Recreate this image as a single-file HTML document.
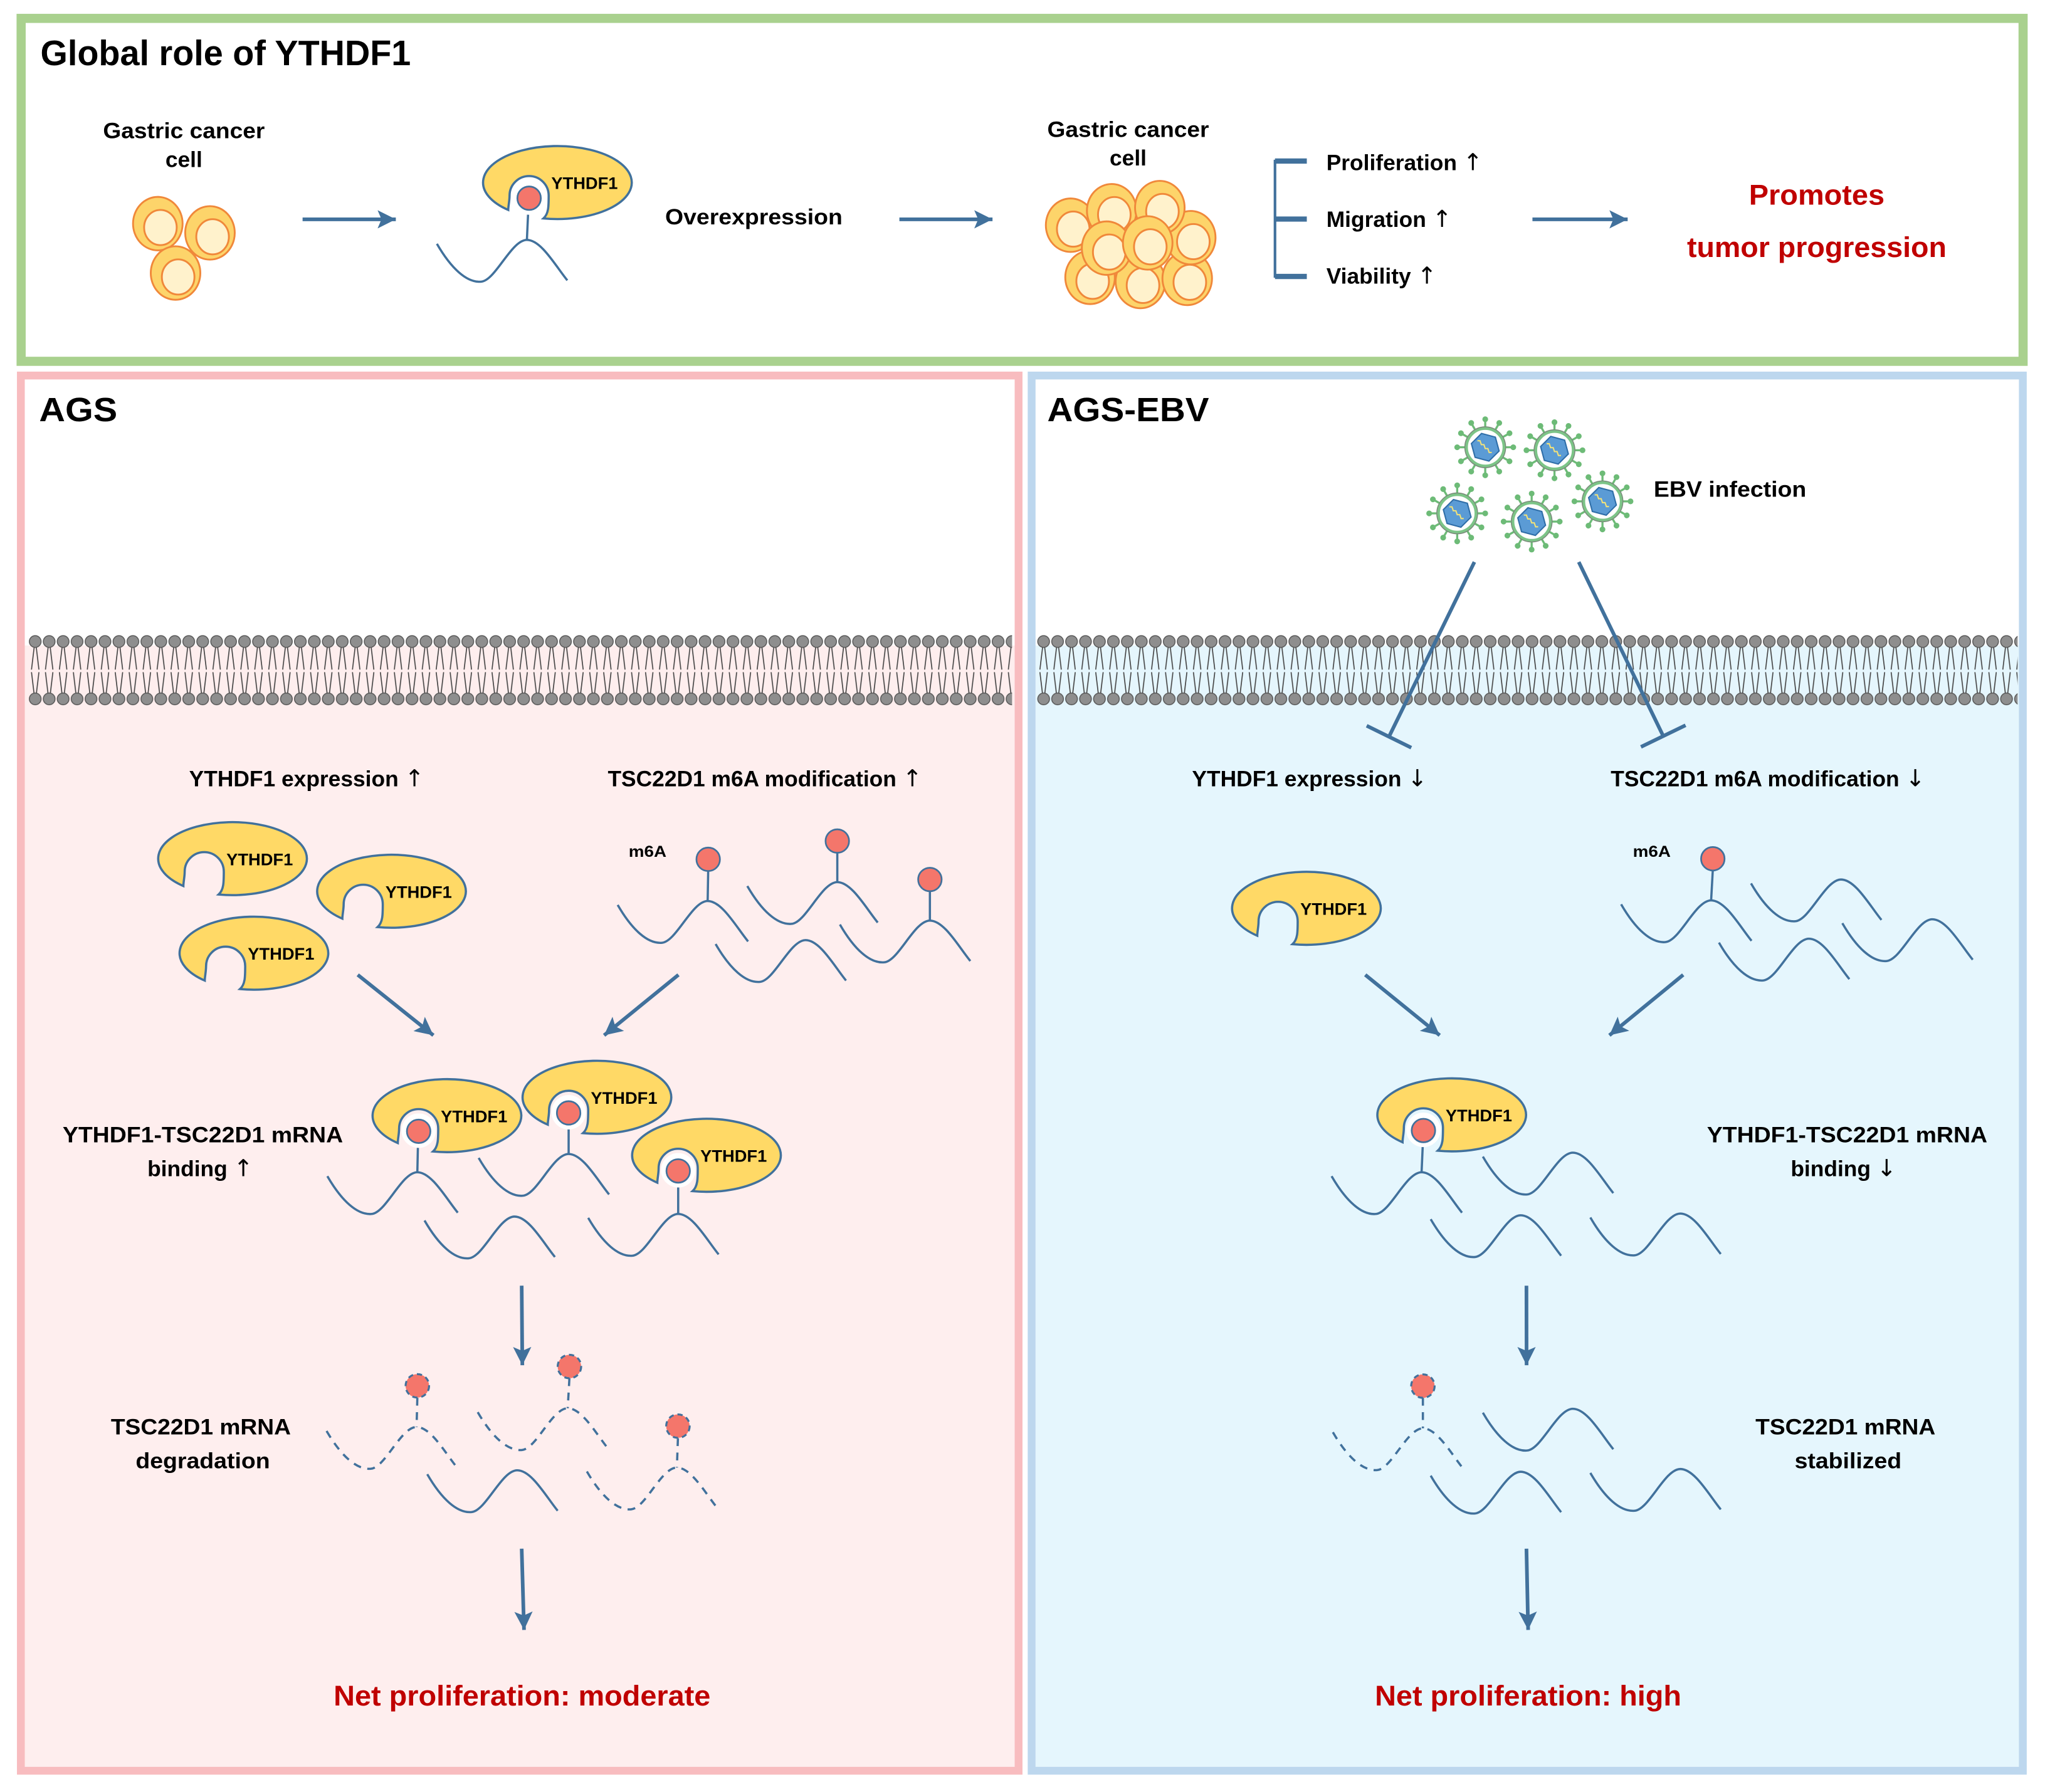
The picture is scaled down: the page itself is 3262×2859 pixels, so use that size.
<!DOCTYPE html>
<html><head><meta charset="utf-8"><style>
html,body{margin:0;padding:0;background:#fff;}
svg{display:block;}
text{font-family:"Liberation Sans",Arial,sans-serif;font-weight:bold;fill:#000;}
.lab{font-size:17px;}
.arw{font-family:"DejaVu Sans",sans-serif;font-weight:normal;font-size:18px;}
.red{fill:#c00000;font-size:22px;}
.ln{fill:none;stroke:#41719c;stroke-width:1.7;}
.dl{fill:none;stroke:#41719c;stroke-width:1.7;stroke-dasharray:6 5;}
.ar{stroke:#41719c;stroke-width:2.8;fill:none;marker-end:url(#ah);}
</style></head><body>
<svg xmlns="http://www.w3.org/2000/svg" xmlns:xlink="http://www.w3.org/1999/xlink" width="3262" height="2859" viewBox="0 0 1568 1374.3" preserveAspectRatio="none">
<defs>
<marker id="ah" markerUnits="userSpaceOnUse" markerWidth="16" markerHeight="14" refX="14" refY="7" orient="auto">
<path d="M0,0 L14,7 L0,14 L3,7 Z" fill="#41719c"/>
</marker>
<path id="w" d="M -69 3 C -58 22, -46 33, -35 32 C -24 31, -12 0, 0 0 C 11 0, 22 20, 31 31"/>
<g id="prot">
<path d="M -36 21 A 57 28 0 1 1 -9 27.5 C -5 24, -5 18, -5 10 A 15 15 0 1 0 -35 10 C -35 14, -36 18, -36 21 Z" fill="#ffd966" stroke="#41719c" stroke-width="1.7"/>
<text x="-3" y="5" font-size="13" textLength="51" lengthAdjust="spacingAndGlyphs">YTHDF1</text>
</g>
<g id="bprot">
<use xlink:href="#prot"/>
<circle cx="-20" cy="11.5" r="13.2" fill="#fff"/>
<circle cx="-20" cy="12" r="9" fill="#f4766b" stroke="#41719c" stroke-width="1.3"/>
</g>
<circle id="dot" r="9" fill="#f4766b" stroke="#41719c" stroke-width="1.3"/>
<circle id="ddot" r="9" fill="#f4766b" stroke="#41719c" stroke-width="1.5" stroke-dasharray="4 3"/>
<g id="cell">
<ellipse rx="19" ry="20.5" fill="#fdd46a" stroke="#f0883a" stroke-width="1.4"/>
<ellipse cx="2" cy="3" rx="12.5" ry="13.5" fill="#fff2cc" stroke="#f0883a" stroke-width="1.4"/>
</g>
<g id="sp"><line x1="15" y1="0" x2="20" y2="0" stroke="#6dbb77" stroke-width="1.6"/><circle cx="21.5" cy="0" r="2.2" fill="#6dbb77"/></g>
<g id="vir">
<use xlink:href="#sp"/><use xlink:href="#sp" transform="rotate(30)"/><use xlink:href="#sp" transform="rotate(60)"/><use xlink:href="#sp" transform="rotate(90)"/><use xlink:href="#sp" transform="rotate(120)"/><use xlink:href="#sp" transform="rotate(150)"/><use xlink:href="#sp" transform="rotate(180)"/><use xlink:href="#sp" transform="rotate(210)"/><use xlink:href="#sp" transform="rotate(240)"/><use xlink:href="#sp" transform="rotate(270)"/><use xlink:href="#sp" transform="rotate(300)"/><use xlink:href="#sp" transform="rotate(330)"/>
<circle r="15.5" fill="#fff" stroke="#7a8a7a" stroke-width="1"/>
<circle r="14.3" fill="#fff" stroke="#7cc487" stroke-width="2"/>
<polygon points="11,0 5.5,9.5 -5.5,9.5 -11,0 -5.5,-9.5 5.5,-9.5" transform="rotate(15)" fill="#5b9bd5" stroke="#2f6ea8" stroke-width="1"/>
<polyline points="-6,-5 -4,-5 -3,-2 -1,-2 0,1 2,1 3,4 5,4" fill="none" stroke="#f2e27a" stroke-width="1"/>
</g>
<pattern id="memA" patternUnits="userSpaceOnUse" x="21.65" y="486" width="10.7" height="57">
<g stroke="#444" stroke-width="0.8" fill="none"><line x1="4.6" y1="10" x2="2.5" y2="27.5"/><line x1="6.1" y1="10" x2="8.2" y2="27.5"/><line x1="4.6" y1="47" x2="2.5" y2="29.5"/><line x1="6.1" y1="47" x2="8.2" y2="29.5"/></g>
<circle cx="5.35" cy="6" r="4.5" fill="#8e8e8e" stroke="#555" stroke-width="0.7"/>
<circle cx="5.35" cy="50" r="4.5" fill="#8e8e8e" stroke="#555" stroke-width="0.7"/>
</pattern>
<pattern id="memB" xlink:href="#memA" x="794.85"/>
</defs>

<!-- Top green box -->
<rect x="16.2" y="14.1" width="1535" height="263" fill="#fff" stroke="#a9d18e" stroke-width="7"/>
<text x="31" y="50" font-size="27" textLength="284" lengthAdjust="spacingAndGlyphs">Global role of YTHDF1</text>
<text class="lab" x="141" y="106" text-anchor="middle" textLength="124" lengthAdjust="spacingAndGlyphs">Gastric cancer</text>
<text class="lab" x="141" y="128" text-anchor="middle">cell</text>
<use xlink:href="#cell" x="121" y="171.5"/>
<use xlink:href="#cell" x="161" y="178.6"/>
<use xlink:href="#cell" x="134.6" y="209.4"/>
<line class="ar" x1="232" y1="168.2" x2="303.5" y2="168.2"/>
<use xlink:href="#w" class="ln" transform="translate(404,184)"/>
<line class="ln" x1="405" y1="162" x2="404" y2="184"/>
<use xlink:href="#bprot" x="425.7" y="140"/>
<text class="lab" x="510" y="172" textLength="136" lengthAdjust="spacingAndGlyphs">Overexpression</text>
<line class="ar" x1="689.6" y1="168.2" x2="761" y2="168.2"/>
<text class="lab" x="865" y="105" text-anchor="middle" textLength="124" lengthAdjust="spacingAndGlyphs">Gastric cancer</text>
<text class="lab" x="865" y="127" text-anchor="middle">cell</text>
<use xlink:href="#cell" x="835.8" y="212.7"/>
<use xlink:href="#cell" x="874.4" y="215.9"/>
<use xlink:href="#cell" x="910.3" y="213.5"/>
<use xlink:href="#cell" x="913" y="182.3"/>
<use xlink:href="#cell" x="820.9" y="172.7"/>
<use xlink:href="#cell" x="852.4" y="161.6"/>
<use xlink:href="#cell" x="889.3" y="159.2"/>
<use xlink:href="#cell" x="848.5" y="190.3"/>
<use xlink:href="#cell" x="880" y="186.3"/>
<path d="M1001 123.5 H977.6 V212 H1001" fill="none" stroke="#41719c" stroke-width="2"/>
<line x1="977.6" y1="123.5" x2="1002" y2="123.5" stroke="#41719c" stroke-width="4"/>
<line x1="977.6" y1="168" x2="1002" y2="168" stroke="#41719c" stroke-width="4"/>
<line x1="977.6" y1="212" x2="1002" y2="212" stroke="#41719c" stroke-width="4"/>
<text class="lab" x="1017" y="130.4">Proliferation <tspan class="arw">↑</tspan></text>
<text class="lab" x="1017" y="174">Migration <tspan class="arw">↑</tspan></text>
<text class="lab" x="1017" y="217.5">Viability <tspan class="arw">↑</tspan></text>
<line class="ar" x1="1175" y1="168.2" x2="1248" y2="168.2"/>
<text class="red" x="1393" y="157" text-anchor="middle" textLength="104" lengthAdjust="spacingAndGlyphs">Promotes</text>
<text class="red" x="1393" y="197" text-anchor="middle" textLength="199" lengthAdjust="spacingAndGlyphs">tumor progression</text>

<!-- Pink panel -->
<rect x="19" y="291" width="760" height="1064" fill="#fff"/>
<rect x="19" y="495" width="760" height="860" fill="#feeeee"/>
<rect x="22" y="486" width="754" height="57" fill="url(#memA)"/>
<rect x="16" y="288" width="765" height="1070" fill="none" stroke="#f8bcbf" stroke-width="6"/>
<text x="30" y="323" font-size="26" textLength="60" lengthAdjust="spacingAndGlyphs">AGS</text>
<text class="lab" x="145" y="603">YTHDF1 expression <tspan class="arw">↑</tspan></text>
<text class="lab" x="466" y="603">TSC22D1 m6A modification <tspan class="arw">↑</tspan></text>
<use xlink:href="#prot" x="176.6" y="658.5"/>
<use xlink:href="#prot" x="298.5" y="683.5"/>
<use xlink:href="#prot" x="193" y="731"/>
<text x="482" y="657" font-size="12" textLength="29" lengthAdjust="spacingAndGlyphs">m6A</text>
<use xlink:href="#w" class="ln" transform="translate(542.6,691)"/>
<use xlink:href="#w" class="ln" transform="translate(642,676.5)"/>
<use xlink:href="#w" class="ln" transform="translate(713,706)"/>
<use xlink:href="#w" class="ln" transform="translate(617.7,721)"/>
<line class="ln" x1="543" y1="668" x2="542.6" y2="691"/>
<line class="ln" x1="642" y1="654" x2="642" y2="676.5"/>
<line class="ln" x1="713" y1="683" x2="713" y2="706"/>
<use xlink:href="#dot" x="543" y="659"/>
<use xlink:href="#dot" x="642" y="645"/>
<use xlink:href="#dot" x="713" y="674.5"/>
<line class="ar" x1="274.3" y1="747.6" x2="332.3" y2="794"/>
<line class="ar" x1="520.2" y1="747.6" x2="463.2" y2="794"/>
<text class="lab" x="155.5" y="876" text-anchor="middle" textLength="215" lengthAdjust="spacingAndGlyphs">YTHDF1-TSC22D1 mRNA</text>
<text class="lab" x="113" y="902">binding <tspan class="arw">↑</tspan></text>
<use xlink:href="#w" class="ln" transform="translate(320,899)"/>
<use xlink:href="#w" class="ln" transform="translate(436,885)"/>
<use xlink:href="#w" class="ln" transform="translate(520,931)"/>
<use xlink:href="#w" class="ln" transform="translate(394.5,933)"/>
<line class="ln" x1="320.5" y1="876" x2="320" y2="899"/>
<line class="ln" x1="436" y1="862" x2="436" y2="885"/>
<line class="ln" x1="520" y1="907" x2="520" y2="931"/>
<use xlink:href="#bprot" x="341" y="855.6"/>
<use xlink:href="#bprot" x="456" y="841.5"/>
<use xlink:href="#bprot" x="540" y="886"/>
<line class="ar" x1="400" y1="986" x2="400.5" y2="1047"/>
<text class="lab" x="154" y="1100" text-anchor="middle" textLength="138" lengthAdjust="spacingAndGlyphs">TSC22D1 mRNA</text>
<text class="lab" x="155.5" y="1126" text-anchor="middle" textLength="103" lengthAdjust="spacingAndGlyphs">degradation</text>
<use xlink:href="#w" class="dl" transform="translate(319.4,1094.4)"/>
<use xlink:href="#w" class="dl" transform="translate(435.3,1080)"/>
<use xlink:href="#w" class="dl" transform="translate(519,1125.5)"/>
<use xlink:href="#w" class="ln" transform="translate(396.6,1127.6)"/>
<line class="dl" x1="320" y1="1072" x2="319.4" y2="1094.4" stroke-dasharray="5 4"/>
<line class="dl" x1="436.6" y1="1057" x2="435.3" y2="1080" stroke-dasharray="5 4"/>
<line class="dl" x1="519.8" y1="1103" x2="519" y2="1125.5" stroke-dasharray="5 4"/>
<use xlink:href="#ddot" x="320" y="1062.8"/>
<use xlink:href="#ddot" x="436.6" y="1048"/>
<use xlink:href="#ddot" x="519.8" y="1093.7"/>
<line class="ar" x1="400" y1="1187.7" x2="401.8" y2="1250"/>
<text class="red" x="400.3" y="1308" text-anchor="middle" textLength="289" lengthAdjust="spacingAndGlyphs">Net proliferation: moderate</text>

<!-- Blue panel -->
<rect x="794" y="291" width="754" height="1064" fill="#fff"/>
<rect x="794" y="495" width="754" height="860" fill="#e5f6fd"/>
<rect x="795" y="486" width="752" height="57" fill="url(#memB)"/>
<rect x="791" y="288" width="760" height="1070" fill="none" stroke="#bdd7ee" stroke-width="6"/>
<text x="803" y="323" font-size="26" textLength="124" lengthAdjust="spacingAndGlyphs">AGS-EBV</text>
<use xlink:href="#vir" x="1138.8" y="343"/>
<use xlink:href="#vir" x="1191.9" y="345.3"/>
<use xlink:href="#vir" x="1117.3" y="393.7"/>
<use xlink:href="#vir" x="1174.4" y="400"/>
<use xlink:href="#vir" x="1228.7" y="384.5"/>
<text class="lab" x="1268" y="381" textLength="117" lengthAdjust="spacingAndGlyphs">EBV infection</text>
<g stroke="#41719c" stroke-width="2.8">
<line x1="1130.5" y1="431" x2="1065" y2="565"/>
<line x1="1047.9" y1="556.6" x2="1082.1" y2="573.4"/>
<line x1="1210.5" y1="431" x2="1275.3" y2="564.5"/>
<line x1="1292.4" y1="556.2" x2="1258.2" y2="572.8"/>
</g>
<text class="lab" x="914" y="603">YTHDF1 expression <tspan class="arw">↓</tspan></text>
<text class="lab" x="1235" y="603">TSC22D1 m6A modification <tspan class="arw">↓</tspan></text>
<use xlink:href="#prot" x="1000" y="696.6"/>
<text x="1252" y="657" font-size="12" textLength="29" lengthAdjust="spacingAndGlyphs">m6A</text>
<use xlink:href="#w" class="ln" transform="translate(1312,690.5)"/>
<use xlink:href="#w" class="ln" transform="translate(1411.6,674.5)"/>
<use xlink:href="#w" class="ln" transform="translate(1387,719.9)"/>
<use xlink:href="#w" class="ln" transform="translate(1481.6,705)"/>
<line class="ln" x1="1313.3" y1="667" x2="1312" y2="690.5"/>
<use xlink:href="#dot" x="1313.3" y="658.6"/>
<line class="ar" x1="1046.8" y1="747.6" x2="1103.9" y2="794"/>
<line class="ar" x1="1290.6" y1="747.6" x2="1234" y2="794"/>
<use xlink:href="#w" class="ln" transform="translate(1090,899)"/>
<use xlink:href="#w" class="ln" transform="translate(1206,884)"/>
<use xlink:href="#w" class="ln" transform="translate(1166,932)"/>
<use xlink:href="#w" class="ln" transform="translate(1288.4,930.7)"/>
<line class="ln" x1="1091" y1="876" x2="1090" y2="899"/>
<use xlink:href="#bprot" x="1111.4" y="855"/>
<text class="lab" x="1416.3" y="876" text-anchor="middle" textLength="215" lengthAdjust="spacingAndGlyphs">YTHDF1-TSC22D1 mRNA</text>
<text class="lab" x="1373" y="902">binding <tspan class="arw">↓</tspan></text>
<line class="ar" x1="1170.4" y1="986" x2="1170.5" y2="1047"/>
<use xlink:href="#w" class="dl" transform="translate(1091,1095.4)"/>
<use xlink:href="#w" class="ln" transform="translate(1206,1080.4)"/>
<use xlink:href="#w" class="ln" transform="translate(1166,1128.7)"/>
<use xlink:href="#w" class="ln" transform="translate(1288.4,1126.6)"/>
<line class="dl" x1="1091" y1="1072" x2="1091" y2="1095.4" stroke-dasharray="5 4"/>
<use xlink:href="#ddot" x="1091" y="1063"/>
<text class="lab" x="1415" y="1100" text-anchor="middle" textLength="138" lengthAdjust="spacingAndGlyphs">TSC22D1 mRNA</text>
<text class="lab" x="1417" y="1126" text-anchor="middle" textLength="82" lengthAdjust="spacingAndGlyphs">stabilized</text>
<line class="ar" x1="1170.4" y1="1187.7" x2="1171.7" y2="1250"/>
<text class="red" x="1171.7" y="1308" text-anchor="middle" textLength="235" lengthAdjust="spacingAndGlyphs">Net proliferation: high</text>
</svg>
</body></html>
